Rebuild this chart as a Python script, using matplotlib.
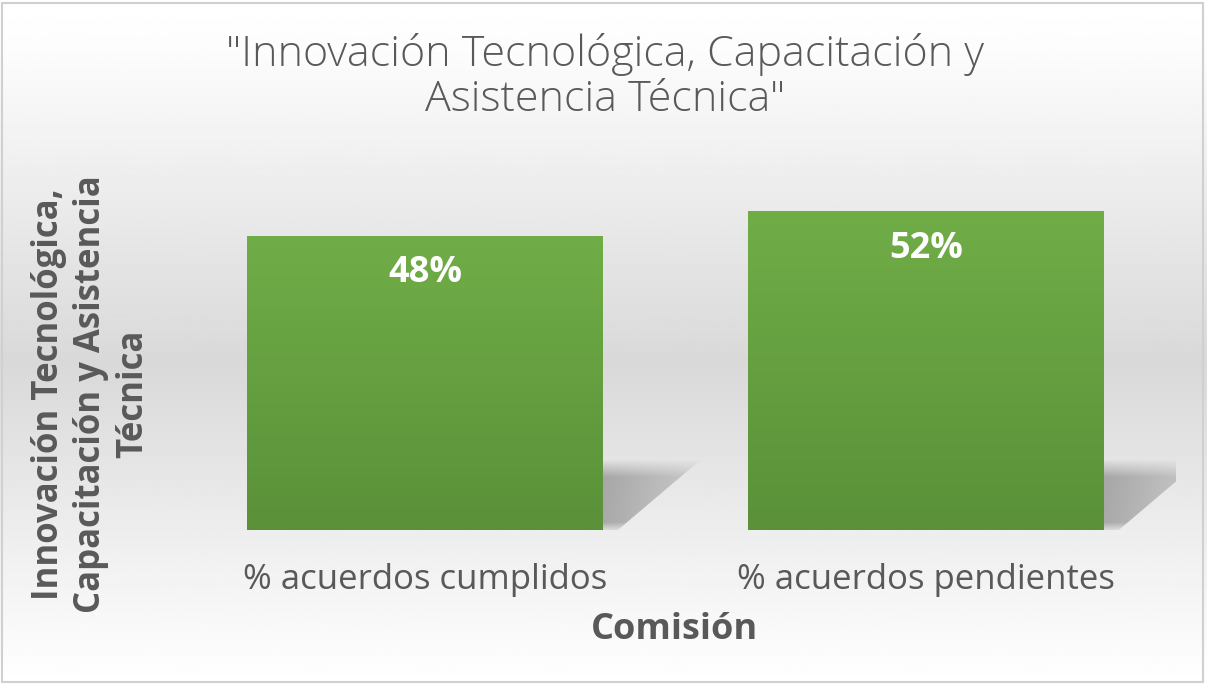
import matplotlib.pyplot as plt
import numpy as np
from matplotlib.patches import Rectangle, Polygon
from matplotlib.colors import LinearSegmentedColormap

categories = ["% acuerdos cumplidos", "% acuerdos pendientes"]
values = [48, 52]
labels = ["48%", "52%"]

title = '"Innovación Tecnológica, Capacitación y\nAsistencia Técnica"'
ylabel = "Innovación Tecnológica,\nCapacitación y Asistencia\nTécnica"
xlabel = "Comisión"

txt = "#595959"
plt.rcParams['font.family'] = ['Open Sans', 'DejaVu Sans']

fig = plt.figure(figsize=(12.07, 6.84), dpi=100)

# background gradient: white -> grey -> white
bg = fig.add_axes([0, 0, 1, 1], zorder=-10)
rows = np.linspace(0, 1, 400)
shade = np.interp(rows, [0, 0.07, 0.53, 0.9, 1], [1.0, 0.99, 0.85, 0.97, 1.0])
bg.imshow(np.tile(shade[:, None], (1, 10)), cmap="gray", vmin=0, vmax=1,
          aspect="auto", extent=(0, 1, 0, 1))
bg.set_axis_off()
fig.add_artist(Rectangle((0.002, 0.003), 0.995, 0.993, transform=fig.transFigure,
                         fill=False, edgecolor="#d0d0d0", lw=1.5))

ax = fig.add_axes([0.1446, 0.2251, 0.830, 0.538])
ax.set_facecolor("none")
x = np.arange(len(categories))
width = 0.71
bars = ax.bar(x, values, width=width, color="none", zorder=3)

green = LinearSegmentedColormap.from_list("g", ["#5a9139", "#70ad47"])
grad = np.linspace(0, 1, 256)[:, None]
for b in bars:
    x0, w, h = b.get_x(), b.get_width(), b.get_height()
    im = ax.imshow(grad, cmap=green, origin="lower", aspect="auto",
                   extent=(x0, x0 + w, 0, h), zorder=3)
    im.set_clip_path(b)

    # perspective shadow behind the bar
    xr = x0 + w
    sh_w, sh_h = 0.196, 11.5
    poly = Polygon([(xr, 0), (xr, sh_h), (xr + sh_w, sh_h), (xr + 0.03, 0)],
                   closed=True, facecolor="none", edgecolor="none")
    ax.add_patch(poly)
    yy = np.linspace(0, 1, 100)[:, None]
    xx = np.linspace(0, 1, 100)[None, :]
    a = np.clip((1 - yy) / 0.25, 0, 1) * (0.55 - 0.3 * xx) * np.clip(yy / 0.15 + 0.3, 0, 1)
    rgba = np.zeros((100, 100, 4))
    rgba[..., :3] = 0.45
    rgba[..., 3] = a
    sim = ax.imshow(rgba, origin="lower", aspect="auto",
                    extent=(xr, xr + sh_w, 0, sh_h), zorder=2)
    sim.set_clip_path(poly)

for b, lab in zip(bars, labels):
    ax.text(b.get_x() + b.get_width() / 2, b.get_height() - 6.1, lab,
            ha="center", va="center", color="white", fontsize=26,
            fontweight="bold", zorder=5)

ax.set_xlim(-0.5, 1.5)
ax.set_ylim(0, 60)
ax.set_xticks(x)
ax.set_xticklabels(categories, fontsize=25, color=txt)
ax.tick_params(axis="x", length=0, pad=24)
ax.set_yticks([])
for s in ax.spines.values():
    s.set_visible(False)

fig.text(0.501, 0.887, title, ha="center", va="center", fontsize=31,
         color=txt, fontweight="light", linespacing=1.07)
fig.text(0.0755, 0.424, ylabel, ha="center", va="center", rotation=90,
         fontsize=25, color=txt, fontweight="bold", linespacing=1.22,
         multialignment="center")
fig.text(0.559, 0.079, xlabel, ha="center", va="center", fontsize=26,
         color=txt, fontweight="bold")

fig.savefig("out.png", dpi=100)
